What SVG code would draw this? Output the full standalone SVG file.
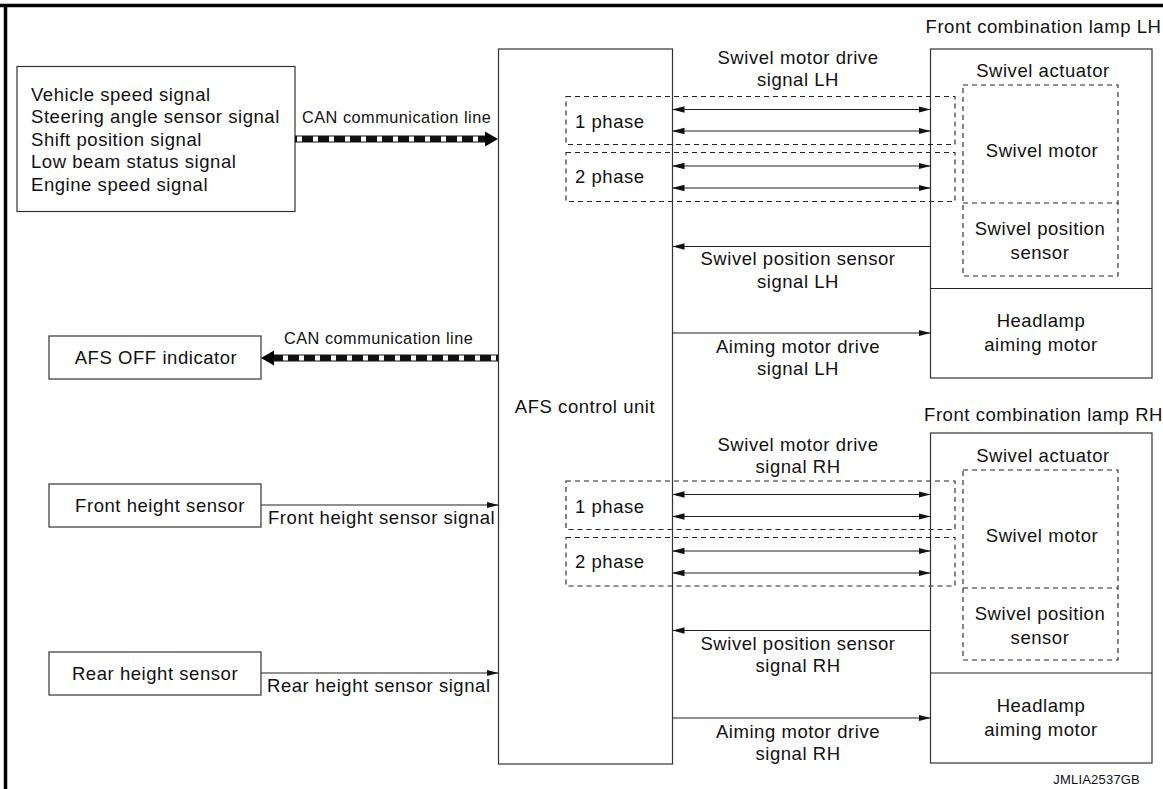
<svg xmlns="http://www.w3.org/2000/svg" width="1163" height="789" viewBox="0 0 1163 789">
<style>
text{font-family:"Liberation Sans",Arial,Helvetica,sans-serif;font-size:18.5px;letter-spacing:0.55px;fill:#111}
.c{text-anchor:middle}
.sm{font-size:16.3px;letter-spacing:0.5px}
.id{font-size:13px;letter-spacing:0.2px}
.box{fill:#fff;stroke:#333;stroke-width:1.2}
.dash{fill:none;stroke:#222;stroke-width:1.1;stroke-dasharray:5 4}
.ln{stroke:#222;stroke-width:1.2;fill:none}
.one{marker-end:url(#ah)}
.two{marker-start:url(#ahs);marker-end:url(#ah)}
.canb{stroke:#111;stroke-width:7;fill:none}
.canw{stroke:#fff;stroke-width:5;stroke-dasharray:5 11;fill:none}
</style>
<defs>
<marker id="ah" markerUnits="userSpaceOnUse" markerWidth="13" markerHeight="8" refX="12" refY="4" orient="auto"><path d="M0,0.8 L12,4 L0,7.2 Z" fill="#111"/></marker>
<marker id="ahs" markerUnits="userSpaceOnUse" markerWidth="13" markerHeight="8" refX="0" refY="4" orient="auto"><path d="M12,0.8 L0,4 L12,7.2 Z" fill="#111"/></marker>
</defs>

<g id="frame">
<line x1="0" y1="5.5" x2="1163" y2="5.5" stroke="#000" stroke-width="3.5"/>
<line x1="5.5" y1="4" x2="5.5" y2="789" stroke="#000" stroke-width="3.5"/>
</g>

<g id="node-inputs">
<rect class="box" x="17" y="66.5" width="278" height="145"/>
<text x="31" y="100.5">Vehicle speed signal</text>
<text x="31" y="123">Steering angle sensor signal</text>
<text x="31" y="145.5">Shift position signal</text>
<text x="31" y="168">Low beam status signal</text>
<text x="31" y="190.5">Engine speed signal</text>
</g>

<g id="node-afs-off">
<rect class="box" x="49" y="336" width="212" height="43"/>
<text class="c" x="156" y="364">AFS OFF indicator</text>
</g>

<g id="node-front-height">
<rect class="box" x="49" y="484" width="212" height="43"/>
<text class="c" x="160" y="512">Front height sensor</text>
</g>

<g id="node-rear-height">
<rect class="box" x="49" y="652" width="212" height="43"/>
<text class="c" x="155" y="680">Rear height sensor</text>
</g>

<g id="node-afs-unit">
<rect class="box" x="498.5" y="49" width="174" height="715"/>
<text class="c" x="585" y="413">AFS control unit</text>
</g>

<g id="node-lamp-lh">
<text class="c" x="1043.5" y="33">Front combination lamp LH</text>
<rect class="box" x="930.5" y="49" width="221.5" height="329"/>
<line class="ln" x1="930.5" y1="288.5" x2="1152" y2="288.5"/>
<text class="c" x="1043" y="76.5">Swivel actuator</text>
<rect class="dash" x="963" y="85" width="155" height="191"/>
<line class="dash" x1="963" y1="203" x2="1118" y2="203"/>
<text class="c" x="1042" y="157">Swivel motor</text>
<text class="c" x="1040" y="235">Swivel position</text>
<text class="c" x="1040" y="259">sensor</text>
<text class="c" x="1041" y="327">Headlamp</text>
<text class="c" x="1041" y="351">aiming motor</text>
</g>

<g id="node-lamp-rh">
<text class="c" x="1043.5" y="421">Front combination lamp RH</text>
<rect class="box" x="930.5" y="433" width="221.5" height="330"/>
<line class="ln" x1="930.5" y1="673" x2="1152" y2="673"/>
<text class="c" x="1043" y="462">Swivel actuator</text>
<rect class="dash" x="963" y="470" width="155" height="190"/>
<line class="dash" x1="963" y1="588" x2="1118" y2="588"/>
<text class="c" x="1042" y="542">Swivel motor</text>
<text class="c" x="1040" y="620">Swivel position</text>
<text class="c" x="1040" y="644">sensor</text>
<text class="c" x="1041" y="712">Headlamp</text>
<text class="c" x="1041" y="736">aiming motor</text>
</g>

<g id="phase-groups">
<rect class="dash" x="566" y="96.5" width="389" height="48"/>
<rect class="dash" x="566" y="152.5" width="389" height="49"/>
<text x="575" y="127.5">1 phase</text>
<text x="575" y="182.5">2 phase</text>
<rect class="dash" x="566" y="481" width="389" height="48.5"/>
<rect class="dash" x="566" y="537.5" width="389" height="48.5"/>
<text x="575" y="513">1 phase</text>
<text x="575" y="568">2 phase</text>
</g>

<g id="connectors">
<line class="canb" x1="295" y1="139" x2="486" y2="139"/>
<line class="canw" x1="297" y1="139" x2="486" y2="139"/>
<path d="M485,131.5 L498,139 L485,146.5 Z" fill="#000"/>
<text class="sm" x="302" y="123">CAN communication line</text>

<line class="canb" x1="498" y1="358" x2="273" y2="358"/>
<line class="canw" x1="496" y1="358" x2="273" y2="358"/>
<path d="M274,350.5 L261,358 L274,365.5 Z" fill="#000"/>
<text class="sm" x="284" y="344">CAN communication line</text>

<line class="ln one" x1="261" y1="505" x2="498.5" y2="505"/>
<text x="268" y="524" letter-spacing="0.35">Front height sensor signal</text>
<line class="ln one" x1="261" y1="673" x2="498.5" y2="673"/>
<text x="267" y="692">Rear height sensor signal</text>

<text class="c" x="798" y="64">Swivel motor drive</text>
<text class="c" x="798" y="86">signal LH</text>
<line class="ln two" x1="672.5" y1="109.5" x2="930.5" y2="109.5"/>
<line class="ln two" x1="672.5" y1="131" x2="930.5" y2="131"/>
<line class="ln two" x1="672.5" y1="166" x2="930.5" y2="166"/>
<line class="ln two" x1="672.5" y1="188" x2="930.5" y2="188"/>
<line class="ln one" x1="930.5" y1="246.5" x2="672.5" y2="246.5"/>
<text class="c" x="798" y="265">Swivel position sensor</text>
<text class="c" x="798" y="287.5">signal LH</text>
<line class="ln one" x1="672.5" y1="333" x2="930.5" y2="333"/>
<text class="c" x="798" y="353">Aiming motor drive</text>
<text class="c" x="798" y="375">signal LH</text>

<text class="c" x="798" y="451">Swivel motor drive</text>
<text class="c" x="798" y="473">signal RH</text>
<line class="ln two" x1="672.5" y1="494.5" x2="930.5" y2="494.5"/>
<line class="ln two" x1="672.5" y1="516.5" x2="930.5" y2="516.5"/>
<line class="ln two" x1="672.5" y1="551" x2="930.5" y2="551"/>
<line class="ln two" x1="672.5" y1="573" x2="930.5" y2="573"/>
<line class="ln one" x1="930.5" y1="630.5" x2="672.5" y2="630.5"/>
<text class="c" x="798" y="650">Swivel position sensor</text>
<text class="c" x="798" y="672">signal RH</text>
<line class="ln one" x1="672.5" y1="718" x2="930.5" y2="718"/>
<text class="c" x="798" y="738">Aiming motor drive</text>
<text class="c" x="798" y="760">signal RH</text>
</g>

<text class="id" x="1140" y="784" text-anchor="end">JMLIA2537GB</text>
</svg>
